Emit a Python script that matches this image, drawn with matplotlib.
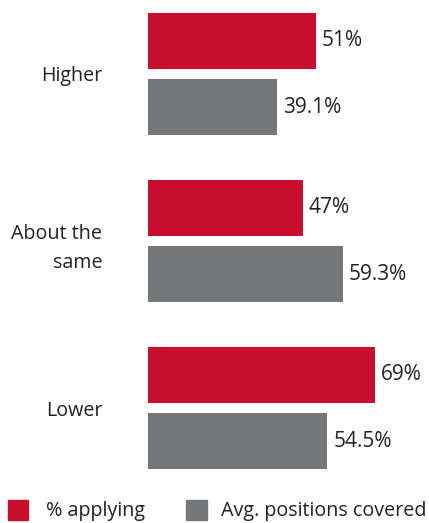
import matplotlib.pyplot as plt
from matplotlib.patches import Rectangle

categories = ['Higher', 'About the\nsame', 'Lower']
applying = [51, 47, 69]
positions_covered = [39.1, 59.3, 54.5]
applying_labels = ['51%', '47%', '69%']
covered_labels = ['39.1%', '59.3%', '54.5%']

red = '#C8102E'
gray = '#75787B'
txt = '#222222'
plt.rcParams['font.family'] = ['Open Sans', 'DejaVu Sans']

fig = plt.figure(figsize=(4.29, 5.23), dpi=100)
ax = fig.add_axes([148 / 429, 43 / 523, 281 / 429, 480 / 523])

ys = range(len(categories))
h = 0.335
off = 0.198
ax.barh([y - off for y in ys], applying, height=h, color=red)
ax.barh([y + off for y in ys], positions_covered, height=h, color=gray)

for y, v, t in zip(ys, applying, applying_labels):
    ax.text(v + 1.8, y - off, t, va='center', ha='left', fontsize=15, color=txt)
for y, v, t in zip(ys, positions_covered, covered_labels):
    ax.text(v + 1.8, y + off, t, va='center', ha='left', fontsize=15, color=txt)

ax.set_xlim(0, 85.4)
ax.set_ylim(2.431, -0.443)
ax.set_yticks(list(ys))
ax.set_yticklabels(categories, fontsize=14.2, color=txt, linespacing=1.65)
ax.tick_params(axis='y', length=0, pad=33)
ax.set_xticks([])
for s in ax.spines.values():
    s.set_visible(False)

# legend drawn by hand along the bottom
fig.patches.append(Rectangle((8 / 429, 3 / 523), 20 / 429, 20 / 523,
                             transform=fig.transFigure, color=red))
fig.text(46 / 429, 12 / 523, '% applying', fontsize=14.2, va='center', color=txt)
fig.patches.append(Rectangle((186 / 429, 3 / 523), 21 / 429, 20 / 523,
                             transform=fig.transFigure, color=gray))
fig.text(221 / 429, 12 / 523, 'Avg. positions covered', fontsize=14.2, va='center', color=txt)

fig.savefig('out.png', dpi=100)
